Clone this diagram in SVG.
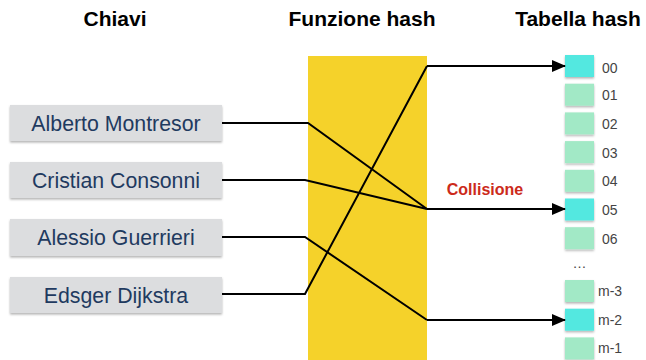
<svg xmlns="http://www.w3.org/2000/svg" width="646" height="360" viewBox="0 0 646 360">
<defs>
<filter id="sh" x="-10%" y="-10%" width="130%" height="140%">
<feDropShadow dx="0" dy="1.5" stdDeviation="1" flood-color="#000" flood-opacity="0.3"/>
</filter>
<marker id="arr" markerWidth="14" markerHeight="12" refX="13" refY="6" orient="auto" markerUnits="userSpaceOnUse">
<path d="M0,0 L14,6 L0,12 Z" fill="#000"/>
</marker>
</defs>
<style>
.title{font-family:"Liberation Sans",Arial,sans-serif;font-weight:bold;font-size:21px;fill:#000;text-anchor:middle}
.key rect{fill:#DCDDDF;filter:url(#sh)}
.key text{font-family:"Liberation Sans",Arial,sans-serif;font-size:21.3px;fill:#1F3A60;text-anchor:middle}
.cell rect{filter:url(#sh)}
.c0{fill:#A2E9C6}
.c1{fill:#52E8E0}
.cell text{font-family:"Liberation Sans",Arial,sans-serif;font-size:14px;fill:#444}
.ln{fill:none;stroke:#000;stroke-width:2}
</style>
<rect width="646" height="360" fill="#fff"/>
<text class="title" x="115" y="26">Chiavi</text>
<text class="title" x="362" y="26">Funzione hash</text>
<text class="title" x="578" y="26">Tabella hash</text>
<rect id="hash" x="308" y="56" width="119" height="304" fill="#F5D22A"/>
<g id="k1" class="key"><rect x="10" y="105" width="212" height="36"/><text x="116" y="130.5">Alberto Montresor</text></g>
<g id="k2" class="key"><rect x="10" y="162" width="212" height="36"/><text x="116" y="187.5">Cristian Consonni</text></g>
<g id="k3" class="key"><rect x="10" y="219" width="212" height="37"/><text x="116" y="245">Alessio Guerrieri</text></g>
<g id="k4" class="key"><rect x="10" y="277" width="212" height="36"/><text x="116" y="302.5">Edsger Dijkstra</text></g>
<g id="cells">
<g id="h00" class="cell"><rect class="c1" x="565" y="55" width="29" height="22"/><text x="602" y="73">00</text></g>
<g id="h01" class="cell"><rect class="c0" x="565" y="83.7" width="29" height="22"/><text x="602" y="100">01</text></g>
<g id="h02" class="cell"><rect class="c0" x="565" y="112.4" width="29" height="22"/><text x="602" y="129">02</text></g>
<g id="h03" class="cell"><rect class="c0" x="565" y="141.1" width="29" height="22"/><text x="602" y="157.5">03</text></g>
<g id="h04" class="cell"><rect class="c0" x="565" y="169.8" width="29" height="22"/><text x="602" y="186">04</text></g>
<g id="h05" class="cell"><rect class="c1" x="565" y="198.5" width="29" height="22"/><text x="602" y="215">05</text></g>
<g id="h06" class="cell"><rect class="c0" x="565" y="227.2" width="29" height="22"/><text x="602" y="244">06</text></g>
<text x="580" y="268" font-family="Liberation Sans,Arial,sans-serif" font-size="14" fill="#444" text-anchor="middle" letter-spacing="1">…</text>
<g id="hm3" class="cell"><rect class="c0" x="565" y="280" width="29" height="22"/><text x="598" y="296">m-3</text></g>
<g id="hm2" class="cell"><rect class="c1" x="565" y="308.7" width="29" height="22"/><text x="598" y="325">m-2</text></g>
<g id="hm1" class="cell"><rect class="c0" x="565" y="337.4" width="29" height="22"/><text x="598" y="353">m-1</text></g>
</g>
<g id="connectors">
<polyline class="ln" points="222,123 308,123 427,209"/>
<polyline class="ln" points="222,180 305,180 427,209"/>
<polyline class="ln" points="222,237 305,237 427,320"/>
<polyline class="ln" points="222,294 305,294 427,66"/>
<line class="ln" x1="427" y1="66" x2="565" y2="66" marker-end="url(#arr)"/>
<line class="ln" x1="427" y1="209" x2="565" y2="209" marker-end="url(#arr)"/>
<line class="ln" x1="427" y1="320" x2="565" y2="320" marker-end="url(#arr)"/>
</g>
<text x="485" y="195" font-family="Liberation Sans,Arial,sans-serif" font-weight="bold" font-size="16" fill="#CC2A1A" text-anchor="middle">Collisione</text>
</svg>
